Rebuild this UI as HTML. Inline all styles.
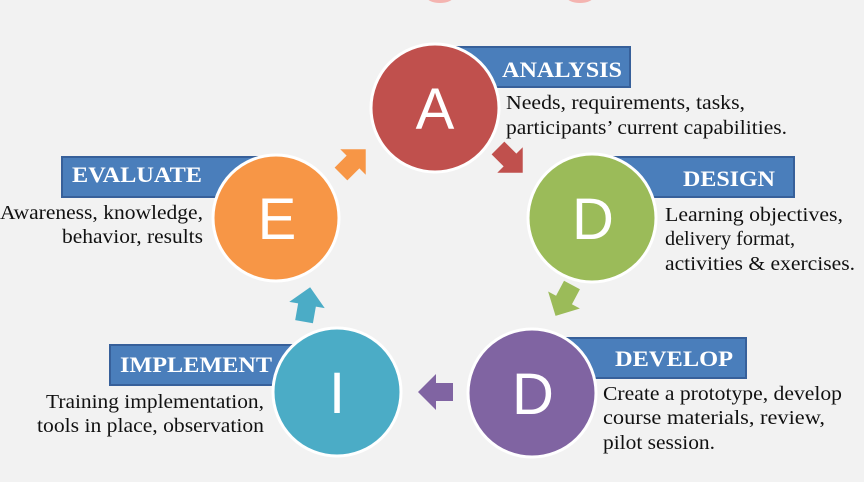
<!DOCTYPE html>
<html><head><meta charset="utf-8"><style>
html,body{margin:0;padding:0;background:#f2f2f2;}
svg{display:block;}
.lab{font-family:"Liberation Serif",serif;font-weight:bold;fill:#fff;font-size:22px;}
.txt{font-family:"Liberation Serif",serif;fill:#111;font-size:20px;}
.let{font-family:"Liberation Sans",sans-serif;fill:#fff;font-size:58px;}
</style></head><body>
<svg width="864" height="482" viewBox="0 0 864 482" xmlns="http://www.w3.org/2000/svg">
<rect width="864" height="482" fill="#f2f2f2"/>
<defs>
<polygon id="arr" points="-17,-9 0,-9 0,-18 18,0 0,18 0,9 -17,9"/>
</defs>
<rect x="450" y="47" width="180" height="40" fill="#4a7ebb" stroke="#37609a" stroke-width="2"/>
<rect x="610" y="157" width="184" height="40" fill="#4a7ebb" stroke="#37609a" stroke-width="2"/>
<rect x="566" y="338" width="180" height="40" fill="#4a7ebb" stroke="#37609a" stroke-width="2"/>
<rect x="62" y="157" width="200" height="40" fill="#4a7ebb" stroke="#37609a" stroke-width="2"/>
<rect x="110" y="345" width="190" height="40" fill="#4a7ebb" stroke="#37609a" stroke-width="2"/>
<text class="lab" x="502" y="77" textLength="120" lengthAdjust="spacingAndGlyphs">ANALYSIS</text>
<text class="lab" x="683" y="186" textLength="92" lengthAdjust="spacingAndGlyphs">DESIGN</text>
<text class="lab" x="615" y="366" textLength="118" lengthAdjust="spacingAndGlyphs">DEVELOP</text>
<text class="lab" x="72" y="182" textLength="130" lengthAdjust="spacingAndGlyphs">EVALUATE</text>
<text class="lab" x="120" y="372" textLength="152" lengthAdjust="spacingAndGlyphs">IMPLEMENT</text>
<use href="#arr" fill="#c0504d" transform="translate(510,160) rotate(45)"/>
<use href="#arr" fill="#9bbb59" transform="translate(564,300) rotate(118)"/>
<use href="#arr" fill="#8064a2" transform="translate(436,392) rotate(180)"/>
<use href="#arr" fill="#4bacc6" transform="translate(307,305) rotate(-80)"/>
<use href="#arr" fill="#f79646" transform="translate(353,162) rotate(-45)"/>
<circle cx="435" cy="108" r="64" fill="#c0504d" stroke="#fff" stroke-width="3"/>
<circle cx="592" cy="218" r="64" fill="#9bbb59" stroke="#fff" stroke-width="3"/>
<circle cx="532" cy="393" r="64" fill="#8064a2" stroke="#fff" stroke-width="3"/>
<circle cx="337" cy="392" r="64" fill="#4bacc6" stroke="#fff" stroke-width="3"/>
<circle cx="276" cy="218" r="63" fill="#f79646" stroke="#fff" stroke-width="3"/>
<text class="let" x="435" y="129" text-anchor="middle">A</text>
<text class="let" x="593" y="239" text-anchor="middle">D</text>
<text class="let" x="533" y="414" text-anchor="middle">D</text>
<text class="let" x="337" y="413" text-anchor="middle">I</text>
<text class="let" x="277" y="239" text-anchor="middle">E</text>
<text class="txt" x="506" y="109" textLength="239" lengthAdjust="spacingAndGlyphs">Needs, requirements, tasks,</text>
<text class="txt" x="506" y="134" textLength="281" lengthAdjust="spacingAndGlyphs">participants’ current capabilities.</text>
<text class="txt" x="665" y="221" textLength="178" lengthAdjust="spacingAndGlyphs">Learning objectives,</text>
<text class="txt" x="665" y="245" textLength="130" lengthAdjust="spacingAndGlyphs">delivery format,</text>
<text class="txt" x="665" y="270" textLength="190" lengthAdjust="spacingAndGlyphs">activities &amp; exercises.</text>
<text class="txt" x="603" y="400" textLength="239" lengthAdjust="spacingAndGlyphs">Create a prototype, develop</text>
<text class="txt" x="603" y="424" textLength="222" lengthAdjust="spacingAndGlyphs">course  materials, review,</text>
<text class="txt" x="603" y="449" textLength="112" lengthAdjust="spacingAndGlyphs">pilot session.</text>
<text class="txt" x="0" y="219" textLength="203" lengthAdjust="spacingAndGlyphs">Awareness, knowledge,</text>
<text class="txt" x="62" y="243" textLength="141" lengthAdjust="spacingAndGlyphs">behavior, results</text>
<text class="txt" x="46" y="408" textLength="218" lengthAdjust="spacingAndGlyphs">Training  implementation,</text>
<text class="txt" x="37" y="432" textLength="227" lengthAdjust="spacingAndGlyphs">tools in place, observation</text>
<ellipse cx="440" cy="-4" rx="14" ry="7" fill="#f4b4b0"/>
<ellipse cx="580" cy="-4" rx="14" ry="7" fill="#f4b4b0"/>
</svg>
</body></html>
